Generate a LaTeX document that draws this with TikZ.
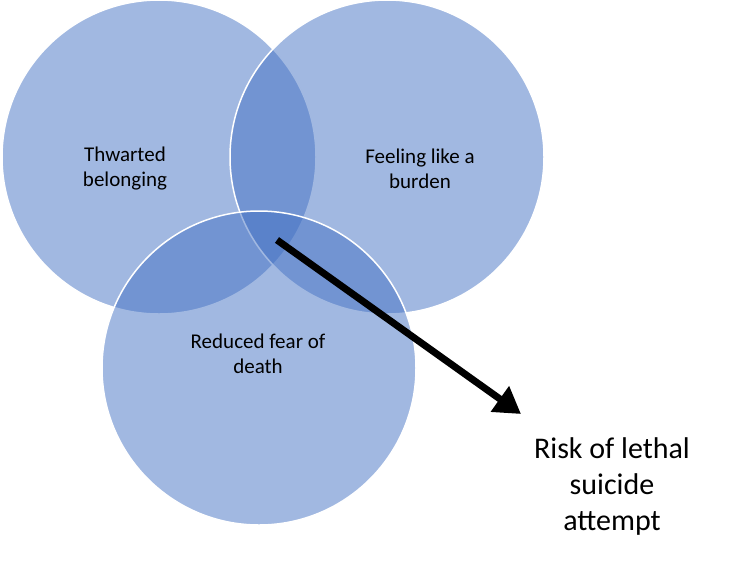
\documentclass[tikz,border=0pt]{standalone}
\usepackage{fontspec}
\setmainfont{Carlito}
\usetikzlibrary{arrows.meta}
\definecolor{cblue}{RGB}{68,114,196}
\begin{document}
\begin{tikzpicture}[x=1pt,y=-1pt,
  venn/.style={fill=cblue,fill opacity=0.5,draw=white,line width=1.5pt},
  lbl/.style={align=center,font=\fontsize{21}{25}\selectfont,text=black},
  big/.style={align=center,font=\fontsize{30}{36}\selectfont,text=black}]
\useasboundingbox (0,0) rectangle (741,576);
\fill[white] (0,0) rectangle (741,576);
\draw[venn] (159,157) circle (157);
\draw[venn] (387,157) circle (157);
\draw[venn] (259,368) circle (157);
\node[lbl] (a) at (125,169) {Thwarted\\belonging};
\node[lbl] (b) at (420,169) {Feeling like a\\burden};
\node[lbl] (c) at (258,354) {Reduced fear of\\death};
\node[big] (r) at (612,486) {Risk of lethal\\suicide\\attempt};
\coordinate (s) at (277,240);
\coordinate (e) at (521,414);
\draw[line width=7pt,-{Triangle[length=26pt,width=30pt]}] (s) -- (e);
\end{tikzpicture}
\end{document}
